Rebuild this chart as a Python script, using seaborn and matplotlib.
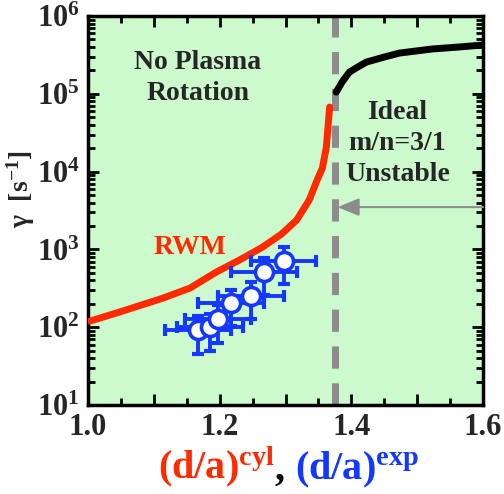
import numpy as np
import pandas as pd
import matplotlib
matplotlib.use("Agg")
import matplotlib.pyplot as plt
import seaborn as sns
from matplotlib.offsetbox import TextArea, HPacker, AnchoredOffsetbox
from matplotlib.ticker import MultipleLocator, FixedLocator, FuncFormatter, LogLocator

# ---- data ----
rwm_x = [1.003, 1.048, 1.114, 1.155, 1.195, 1.230, 1.265, 1.294, 1.317, 1.336, 1.348, 1.356, 1.362, 1.367]
rwm_y = [120, 157, 237, 319, 513, 731, 1070, 1578, 2390, 4315, 7800, 11100, 20700, 67600]

ideal_x = [1.377, 1.386, 1.397, 1.412, 1.423, 1.450, 1.473, 1.523, 1.564, 1.600]
ideal_y = [105000, 142000, 190000, 227000, 256000, 297000, 334000, 377000, 400000, 424000]

exp_x = [1.167, 1.185, 1.197, 1.217, 1.247, 1.267, 1.297]
exp_y = [92, 100, 127, 203, 252, 512, 710]
exp_xerr = [0.05, 0.05, 0.05, 0.05, 0.05, 0.05, 0.05]
exp_yerr = [46, 50, 64, 100, 125, 255, 350]

limit_x = 1.375
arrow_y = 3500

xticks = [1.0, 1.1, 1.2, 1.3, 1.4, 1.5, 1.6]
xticklabels = ["1.0", "", "1.2", "", "1.4", "", "1.6"]

# ---- style ----
sns.set_theme(style="ticks")
plt.rcParams["font.family"] = ["Liberation Serif", "DejaVu Serif"]
plt.rcParams["font.weight"] = "bold"
plt.rcParams["mathtext.fontset"] = "custom"
plt.rcParams["mathtext.rm"] = "Liberation Serif:bold"
plt.rcParams["mathtext.bf"] = "Liberation Serif:bold"
plt.rcParams["mathtext.it"] = "Liberation Serif:italic:bold"
plt.rcParams["mathtext.default"] = "regular"

RED = "#ff2a00"
BLUE = "#1438ff"
BG = "#cdfacd"

fig = plt.figure(figsize=(5.04, 4.94), dpi=100)
ax = fig.add_axes([0.1746, 0.18, 0.7838, 0.7876])
ax.set_facecolor(BG)

df_rwm = pd.DataFrame({"x": rwm_x, "y": rwm_y})
df_ideal = pd.DataFrame({"x": ideal_x, "y": ideal_y})

sns.lineplot(data=df_rwm, x="x", y="y", ax=ax, color=RED, lw=5, sort=False, zorder=3)
sns.lineplot(data=df_ideal, x="x", y="y", ax=ax, color="black", lw=5, sort=False, zorder=3)

ax.axvline(limit_x, color="#8c8c8c", lw=5, dashes=(3.2, 2.1), zorder=2)

ax.errorbar(exp_x, exp_y, xerr=exp_xerr, yerr=exp_yerr, fmt="none", ecolor=BLUE,
            elinewidth=2.8, capsize=4.5, capthick=3.0, zorder=4)
sns.scatterplot(x=exp_x, y=exp_y, ax=ax, s=170, color="white", edgecolor=BLUE,
                linewidth=2.6, zorder=5)

ax.annotate("", xy=(1.379, arrow_y), xytext=(1.6, arrow_y),
            arrowprops=dict(arrowstyle="-|>,head_length=1.1,head_width=0.45",
                            color="#8c8c8c", lw=1.5, shrinkA=0, shrinkB=0), zorder=6)

ax.set_yscale("log")
ax.set_xlim(1.0, 1.6)
ax.set_ylim(10, 1e6)
ax.xaxis.set_major_locator(FixedLocator(xticks))
ax.set_xticklabels(xticklabels)
ax.xaxis.set_minor_locator(MultipleLocator(0.05))
ax.yaxis.set_major_locator(LogLocator(base=10, numticks=10))
ax.yaxis.set_minor_locator(LogLocator(base=10, subs=np.arange(2, 10), numticks=10))
ax.yaxis.set_minor_formatter(FuncFormatter(lambda v, p: ""))

ax.tick_params(which="both", direction="in", top=True, right=True, width=2, color="black")
ax.tick_params(which="major", length=8, labelsize=22, pad=6)
ax.tick_params(which="minor", length=5)
for s in ax.spines.values():
    s.set_linewidth(2.5)
    s.set_color("black")
ax.set_xlabel("")
ax.set_ylabel("γ  [s$^{-1}$]", fontsize=20, fontweight="bold")
ax.yaxis.set_label_coords(-0.13, 0.555)

ax.text(1.167, 1.6e5, "No Plasma\nRotation", ha="center", va="center", fontsize=20,
        fontweight="bold", linespacing=1.3)
ax.text(1.47, 2.3e4, "Ideal\nm/n=3/1\nUnstable", ha="center", va="center", fontsize=20,
        fontweight="bold", linespacing=1.3)
ax.text(1.155, 1050, "RWM", ha="center", va="center", fontsize=20, fontweight="bold",
        color=RED)

parts = [
    TextArea("(d/a)$^{cyl}$", textprops=dict(color=RED, fontsize=29, fontweight="bold")),
    TextArea(", ", textprops=dict(color="black", fontsize=29, fontweight="bold")),
    TextArea("(d/a)$^{exp}$", textprops=dict(color=BLUE, fontsize=29, fontweight="bold")),
]
box = HPacker(children=parts, align="baseline", pad=0, sep=0)
anch = AnchoredOffsetbox(loc="center", child=box, pad=0, frameon=False,
                         bbox_to_anchor=(0.572, 0.053), bbox_transform=fig.transFigure,
                         borderpad=0)
fig.add_artist(anch)

fig.savefig("out.png", dpi=100)
